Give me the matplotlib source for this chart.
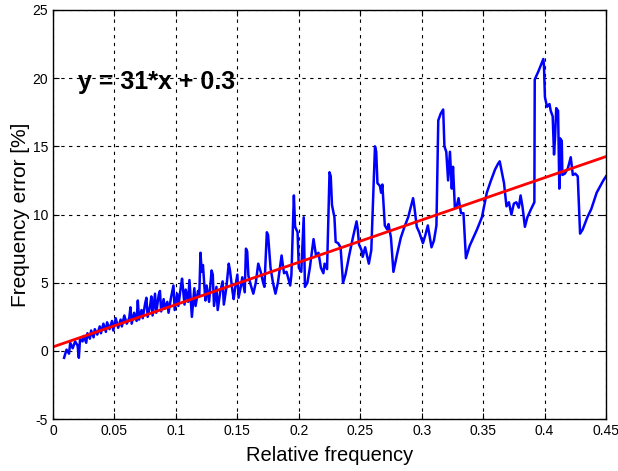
#!/usr/bin/env python3
"""
Frequency error vs relative frequency, with a linear fit overlay.
"""

import matplotlib
matplotlib.use('Agg')
import matplotlib.pyplot as plt
import numpy as np

plt.rcParams['font.family'] = ['Liberation Sans', 'DejaVu Sans']
plt.rcParams['axes.unicode_minus'] = False

rel_freq = [
    0.009, 0.011, 0.013, 0.014, 0.016, 0.018, 0.020, 0.021, 0.022, 0.024,
    0.025, 0.027, 0.028, 0.030, 0.031, 0.033, 0.034, 0.036, 0.038, 0.039,
    0.041, 0.043, 0.044, 0.046, 0.048, 0.049, 0.051, 0.053, 0.055, 0.056,
    0.058, 0.060, 0.062, 0.063, 0.064, 0.066, 0.068, 0.069, 0.070, 0.072,
    0.073, 0.075, 0.076, 0.077, 0.079, 0.080, 0.081, 0.083, 0.084, 0.086,
    0.087, 0.088, 0.090, 0.091, 0.093, 0.094, 0.096, 0.098, 0.099, 0.101,
    0.102, 0.104, 0.105, 0.107, 0.108, 0.110, 0.111, 0.113, 0.115, 0.116,
    0.118, 0.119, 0.120, 0.121, 0.122, 0.124, 0.125, 0.127, 0.129, 0.130,
    0.131, 0.133, 0.134, 0.136, 0.138, 0.139, 0.141, 0.143, 0.144, 0.146,
    0.147, 0.148, 0.150, 0.151, 0.153, 0.154, 0.156, 0.157, 0.158, 0.159,
    0.161, 0.163, 0.165, 0.167, 0.169, 0.171, 0.172, 0.174, 0.175, 0.177,
    0.179, 0.181, 0.183, 0.186, 0.187, 0.188, 0.190, 0.193, 0.194, 0.196,
    0.197, 0.199, 0.200, 0.202, 0.204, 0.205, 0.207, 0.209, 0.212, 0.214,
    0.216, 0.218, 0.220, 0.221, 0.223, 0.225, 0.226, 0.227, 0.229, 0.230,
    0.232, 0.234, 0.236, 0.238, 0.241, 0.244, 0.247, 0.248, 0.249, 0.251,
    0.252, 0.254, 0.257, 0.259, 0.262, 0.263, 0.264, 0.266, 0.267, 0.268,
    0.270, 0.272, 0.273, 0.275, 0.277, 0.280, 0.283, 0.286, 0.289, 0.291,
    0.293, 0.294, 0.296, 0.298, 0.301, 0.303, 0.305, 0.308, 0.310, 0.312,
    0.3135, 0.3155, 0.3175, 0.3185, 0.320, 0.3215, 0.323, 0.3245, 0.3255, 0.327,
    0.3285, 0.330, 0.332, 0.334, 0.336, 0.339, 0.342, 0.345, 0.349, 0.353,
    0.356, 0.3597, 0.362, 0.3635, 0.365, 0.367, 0.369, 0.371, 0.373, 0.375,
    0.377, 0.379, 0.3805, 0.382, 0.384, 0.386, 0.389, 0.3917, 0.392, 0.395,
    0.3977, 0.399, 0.3995, 0.4003, 0.402, 0.404, 0.405, 0.4066, 0.4077, 0.4085,
    0.4095, 0.411, 0.412, 0.4125, 0.414, 0.4145, 0.4165, 0.419, 0.4213, 0.423,
    0.425, 0.427, 0.4289, 0.431, 0.4348, 0.438, 0.4424, 0.4478, 0.450,
]
freq_error = [
    -0.5, 0.1, -0.2, 0.6, 0.2, 0.7, 0.4, -0.5, 0.9, 0.7,
    1.1, 0.6, 1.3, 0.9, 1.5, 1.0, 1.6, 1.2, 1.8, 1.3,
    2.0, 1.4, 2.1, 1.6, 2.2, 1.5, 2.4, 1.7, 2.3, 1.8,
    2.6, 2.0, 2.4, 3.2, 2.0, 2.8, 2.2, 3.7, 2.3, 3.0,
    2.4, 3.5, 3.9, 2.5, 3.3, 4.0, 2.6, 4.2, 2.8, 4.1,
    4.4, 2.9, 3.8, 3.1, 3.6, 2.8, 3.9, 4.8, 3.0, 4.2,
    3.3, 4.7, 5.3, 3.4, 4.5, 3.6, 5.2, 2.5, 4.6, 3.3,
    4.4, 4.0, 7.2, 5.8, 6.3, 3.7, 4.8, 3.6, 5.9, 5.6,
    3.3, 4.7, 3.0, 4.3, 5.1, 3.4, 4.6, 6.4, 5.9, 4.4,
    3.8, 4.5, 5.6, 3.9, 4.8, 5.4, 4.3, 7.5, 7.3, 5.5,
    4.8, 4.2, 5.0, 6.4, 5.8, 5.0, 4.7, 8.7, 8.5, 6.1,
    5.0, 4.2, 5.0, 7.0, 6.3, 5.7, 5.8, 4.8, 5.6, 11.4,
    9.1, 8.7, 6.1, 5.8, 9.8, 4.7, 5.0, 6.1, 8.2, 7.0,
    7.2, 6.1, 5.7, 6.4, 6.0, 13.1, 12.8, 10.7, 9.8, 8.0,
    7.9, 7.6, 5.0, 5.6, 7.0, 8.3, 9.5, 8.9, 7.8, 7.4,
    6.9, 7.6, 6.4, 7.4, 15.0, 14.6, 12.3, 12.1, 11.6, 12.2,
    9.2, 8.9, 9.3, 8.3, 5.8, 7.1, 8.3, 9.1, 9.8, 10.5,
    11.2, 10.6, 9.1, 8.7, 7.9, 8.5, 9.2, 7.6, 8.1, 9.2,
    16.9, 17.4, 17.7, 15.0, 14.6, 12.5, 14.6, 11.9, 13.5, 10.5,
    10.6, 11.2, 10.1, 10.1, 6.8, 7.7, 8.3, 8.9, 9.8, 11.6,
    12.4, 13.3, 13.7, 13.9, 13.2, 12.3, 10.6, 10.9, 10.0, 10.8,
    10.9, 10.5, 11.4, 10.6, 9.1, 9.8, 10.4, 10.9, 19.9, 20.5,
    21.1, 21.4, 20.9, 18.6, 17.9, 18.1, 17.6, 17.2, 14.4, 15.6,
    17.8, 17.6, 11.9, 15.6, 15.4, 12.9, 13.0, 13.4, 14.2, 12.9,
    13.0, 12.8, 8.6, 8.9, 9.8, 10.4, 11.6, 12.5, 12.8,
]

# Linear fit coefficients shown on the chart
slope = 31
intercept = 0.3

x_ticks = [0, 0.05, 0.1, 0.15, 0.2, 0.25, 0.3, 0.35, 0.4, 0.45]
x_tick_labels = ['0', '0.05', '0.1', '0.15', '0.2', '0.25', '0.3', '0.35', '0.4', '0.45']
y_ticks = [-5, 0, 5, 10, 15, 20, 25]

fig = plt.figure(figsize=(6.18, 4.71), dpi=100)
ax = fig.add_axes([0.0858, 0.110, 0.8948, 0.869])

ax.plot(rel_freq, freq_error, color='#0000ff', linewidth=1.8)

fit_x = np.array([0, 0.45])
ax.plot(fit_x, slope * fit_x + intercept, color='#ff0000', linewidth=2)

ax.set_xlim(0, 0.45)
ax.set_ylim(-5, 25)
ax.set_xticks(x_ticks)
ax.set_xticklabels(x_tick_labels)
ax.set_yticks(y_ticks)

ax.grid(True, color='black', linestyle=(0, (3, 4)), linewidth=0.8)
ax.tick_params(direction='in', top=True, right=True, labelsize=10, length=4)
for spine in ax.spines.values():
    spine.set_linewidth(1)

ax.set_xlabel('Relative frequency', fontsize=14.5, labelpad=6)
ax.set_ylabel('Frequency error [%]', fontsize=15, labelpad=2)

ax.text(0.020, 19.7, 'y = 31*x + 0.3', fontsize=18, fontweight='bold',
        va='center', ha='left')

fig.savefig('out.png', dpi=100)
